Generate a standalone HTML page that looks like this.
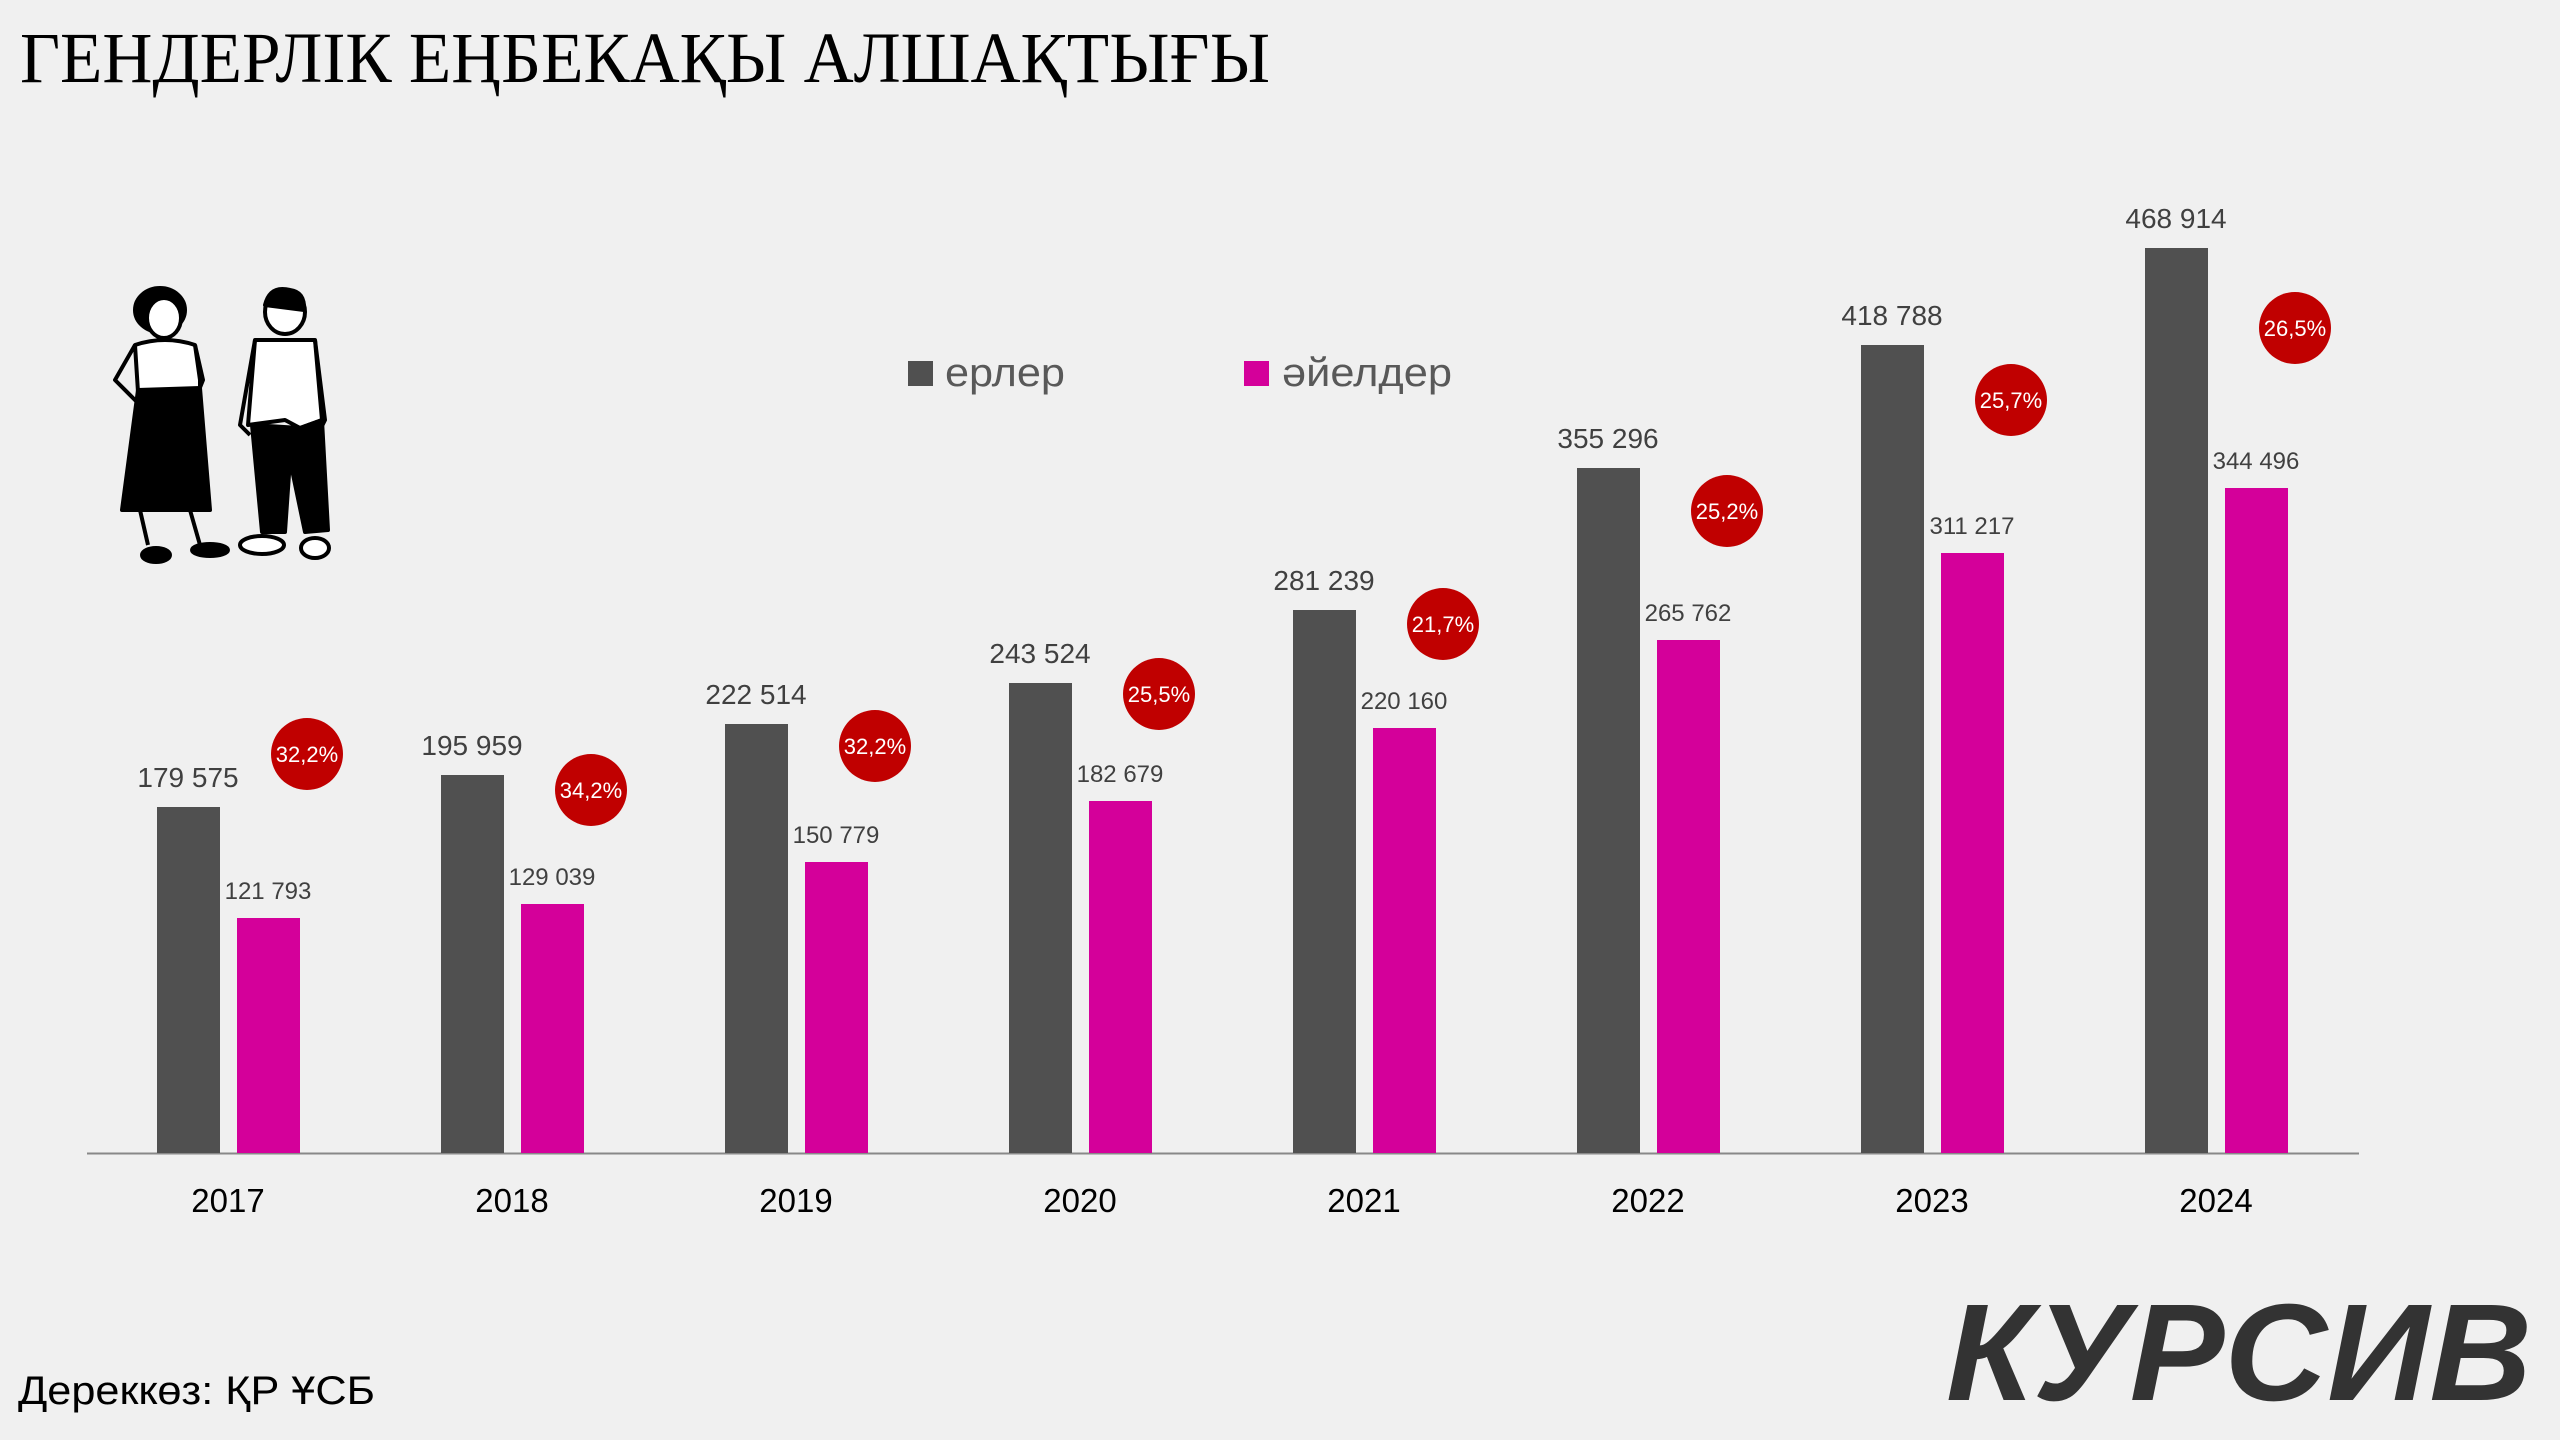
<!DOCTYPE html>
<html><head><meta charset="utf-8"><style>
html,body{margin:0;padding:0;background:#f0f0f0;}
svg{display:block}
</style></head><body>
<svg width="2560" height="1440" viewBox="0 0 2560 1440" xmlns="http://www.w3.org/2000/svg">
<rect width="2560" height="1440" fill="#f0f0f0"/>
<text x="20" y="82" font-family="Liberation Serif, serif" font-size="72" fill="#000" textLength="1250" lengthAdjust="spacingAndGlyphs">ГЕНДЕРЛІК ЕҢБЕКАҚЫ АЛШАҚТЫҒЫ</text>

<!-- figures -->
<g stroke="#000" stroke-width="4" stroke-linejoin="round">
<ellipse cx="160" cy="310" rx="25" ry="22" fill="#000"/>
<ellipse cx="164" cy="318" rx="17" ry="20" fill="#fff"/>
<path d="M135 345 Q165 335 195 345 L200 380 L200 392 L138 392 Z" fill="#fff"/>
<path d="M135 345 L115 380 L140 405 L150 400" fill="none"/>
<path d="M195 345 L203 380 L195 400" fill="none"/>
<path d="M138 390 L200 388 L210 510 L122 510 Z" fill="#000"/>
<path d="M140 510 L148 545 M190 510 L200 545" fill="none"/>
<ellipse cx="156" cy="555" rx="14" ry="7" fill="#000"/>
<ellipse cx="210" cy="550" rx="18" ry="6" fill="#000"/>
<ellipse cx="285" cy="312" rx="20" ry="22" fill="#fff"/>
<path d="M265 305 Q270 285 290 290 Q305 292 304 310 Z" fill="#000"/>
<path d="M255 340 L315 340 L322 420 L300 428 L285 420 L248 425 Z" fill="#fff"/>
<path d="M255 340 L240 425 L250 435 M315 340 L325 420 L320 430" fill="none"/>
<path d="M252 425 L300 428 L322 420 L328 530 L305 532 L290 460 L285 532 L262 532 Z" fill="#000"/>
<ellipse cx="262" cy="545" rx="22" ry="9" fill="#fff"/>
<ellipse cx="315" cy="548" rx="14" ry="10" fill="#fff"/>
</g>

<!-- legend -->
<rect x="908" y="361" width="25" height="25" fill="#505050"/>
<text x="945" y="386" font-family="Liberation Sans, sans-serif" font-size="40" fill="#595959" textLength="120" lengthAdjust="spacingAndGlyphs">ерлер</text>
<rect x="1244" y="361" width="25" height="25" fill="#d4009a"/>
<text x="1282" y="386" font-family="Liberation Sans, sans-serif" font-size="40" fill="#595959" textLength="170" lengthAdjust="spacingAndGlyphs">әйелдер</text>

<!-- axis -->
<line x1="87" y1="1153.5" x2="2359" y2="1153.5" stroke="#888" stroke-width="2"/>

<g font-family="Liberation Sans, sans-serif" text-anchor="middle">
<g fill="#505050">
<rect x="157" y="807" width="63" height="346"/>
<rect x="441" y="775" width="63" height="378"/>
<rect x="725" y="724" width="63" height="429"/>
<rect x="1009" y="683" width="63" height="470"/>
<rect x="1293" y="610" width="63" height="543"/>
<rect x="1577" y="468" width="63" height="685"/>
<rect x="1861" y="345" width="63" height="808"/>
<rect x="2145" y="248" width="63" height="905"/>
</g>
<g fill="#d4009a">
<rect x="237" y="918" width="63" height="235"/>
<rect x="521" y="904" width="63" height="249"/>
<rect x="805" y="862" width="63" height="291"/>
<rect x="1089" y="801" width="63" height="352"/>
<rect x="1373" y="728" width="63" height="425"/>
<rect x="1657" y="640" width="63" height="513"/>
<rect x="1941" y="553" width="63" height="600"/>
<rect x="2225" y="488" width="63" height="665"/>
</g>
<g fill="#404040" font-size="28">
<text x="188" y="787">179 575</text>
<text x="472" y="755">195 959</text>
<text x="756" y="704">222 514</text>
<text x="1040" y="663">243 524</text>
<text x="1324" y="590">281 239</text>
<text x="1608" y="448">355 296</text>
<text x="1892" y="325">418 788</text>
<text x="2176" y="228">468 914</text>
</g>
<g fill="#404040" font-size="24">
<text x="268" y="899">121 793</text>
<text x="552" y="885">129 039</text>
<text x="836" y="843">150 779</text>
<text x="1120" y="782">182 679</text>
<text x="1404" y="709">220 160</text>
<text x="1688" y="621">265 762</text>
<text x="1972" y="534">311 217</text>
<text x="2256" y="469">344 496</text>
</g>
<g fill="#c00000">
<circle cx="307" cy="754" r="36"/>
<circle cx="591" cy="790" r="36"/>
<circle cx="875" cy="746" r="36"/>
<circle cx="1159" cy="694" r="36"/>
<circle cx="1443" cy="624" r="36"/>
<circle cx="1727" cy="511" r="36"/>
<circle cx="2011" cy="400" r="36"/>
<circle cx="2295" cy="328" r="36"/>
</g>
<g fill="#fff" font-size="22">
<text x="307" y="762">32,2%</text>
<text x="591" y="798">34,2%</text>
<text x="875" y="754">32,2%</text>
<text x="1159" y="702">25,5%</text>
<text x="1443" y="632">21,7%</text>
<text x="1727" y="519">25,2%</text>
<text x="2011" y="408">25,7%</text>
<text x="2295" y="336">26,5%</text>
</g>
<g fill="#000" font-size="33">
<text x="228" y="1212">2017</text>
<text x="512" y="1212">2018</text>
<text x="796" y="1212">2019</text>
<text x="1080" y="1212">2020</text>
<text x="1364" y="1212">2021</text>
<text x="1648" y="1212">2022</text>
<text x="1932" y="1212">2023</text>
<text x="2216" y="1212">2024</text>
</g>
</g>

<text x="18" y="1404" font-family="Liberation Sans, sans-serif" font-size="40" fill="#000" textLength="357" lengthAdjust="spacingAndGlyphs">Дереккөз: ҚР ҰСБ</text>
<text x="1946" y="1400" font-family="Liberation Sans, sans-serif" font-weight="bold" font-style="italic" font-size="138" fill="#333" textLength="586" lengthAdjust="spacingAndGlyphs">КУРСИВ</text>
</svg>
</body></html>
